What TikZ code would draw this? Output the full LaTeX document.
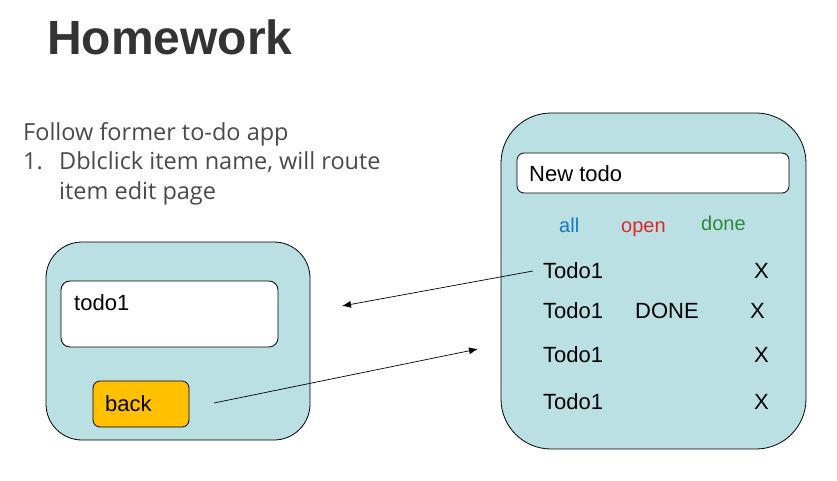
\documentclass[tikz,border=0pt]{standalone}
\usepackage{fontspec}
\setmainfont{Liberation Sans}
\newfontfamily\segoe{Open Sans}
\usetikzlibrary{arrows.meta}
\definecolor{panelblue}{HTML}{BBE0E4}
\definecolor{btnorange}{HTML}{FFC000}
\definecolor{titlegray}{HTML}{333333}
\definecolor{txtgray}{HTML}{4A4A4A}
\definecolor{allblue}{HTML}{1A78C2}
\definecolor{openred}{HTML}{E0262A}
\definecolor{donegreen}{HTML}{2A8A3A}
\tikzset{
  panel/.style={draw=black, line width=0.8pt, fill=panelblue},
  whitebox/.style={draw=black, line width=0.8pt, fill=white},
  lbl/.style={inner sep=0pt, anchor=base west, font=\fontsize{22}{26}\selectfont},
  filt/.style={inner sep=0pt, anchor=base west, font=\fontsize{20}{24}\selectfont},
  desc/.style={inner sep=0pt, anchor=base west, text=txtgray, font=\segoe\fontsize{23.5}{28}\selectfont},
  link/.style={draw=black, line width=0.7pt, -{Latex[length=9pt,width=7pt]}},
}
\begin{document}
\begin{tikzpicture}[x=1pt,y=-1pt]
\useasboundingbox (0,0) rectangle (837,481);
% title
\node[inner sep=0pt, anchor=base west, text=titlegray, font=\fontsize{48}{52}\selectfont\bfseries] (title) at (47,55) {Homework};
% description
\node[desc] (d1) at (23,141) {Follow former to-do app};
\node[desc] (d2) at (23,170) {1.};
\node[desc] (d3) at (59,170) {Dblclick item name, will route};
\node[desc] (d4) at (59,199) {item edit page};
% left panel
\draw[panel, rounded corners=36pt] (46,242) rectangle (310,440);
\draw[whitebox, rounded corners=9pt] (61,281) rectangle (278,347);
\node[lbl] (edit) at (74,310) {todo1};
\draw[draw=black, line width=0.8pt, fill=btnorange, rounded corners=7pt] (93,381) rectangle (189,427);
\node[lbl] (back) at (105,411) {back};
% right panel
\draw[panel, rounded corners=50pt] (501,113) rectangle (806,449);
\draw[whitebox, rounded corners=7pt] (517,153) rectangle (789,193);
\node[lbl] (newtodo) at (529,182) {New todo};
\node[filt, text=allblue] (all) at (559,232) {all};
\node[filt, text=openred] (open) at (621,232) {open};
\node[filt, text=donegreen] (done) at (701,230) {done};
\node[lbl] (t1) at (543,278) {Todo1};
\node[lbl] (x1) at (754,278) {X};
\node[lbl] (t2) at (543,318) {Todo1};
\node[lbl] (dn) at (635,318) {DONE};
\node[lbl] (x2) at (750,318) {X};
\node[lbl] (t3) at (543,362) {Todo1};
\node[lbl] (x3) at (754,362) {X};
\node[lbl] (t4) at (543,409) {Todo1};
\node[lbl] (x4) at (754,409) {X};
% arrows
\coordinate (a1s) at (533,271);
\coordinate (a1e) at (342,306);
\coordinate (a2s) at (214,403);
\coordinate (a2e) at (478,349);
\draw[link] (a1s) -- (a1e);
\draw[link] (a2s) -- (a2e);
\end{tikzpicture}
\end{document}
